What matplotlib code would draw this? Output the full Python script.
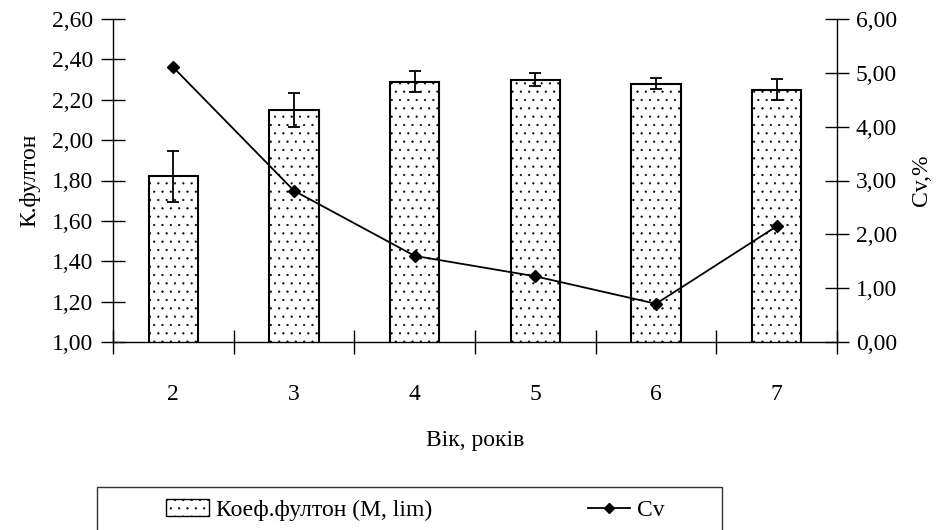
import matplotlib.pyplot as plt
import matplotlib.patches as mpatches
from matplotlib.lines import Line2D
from matplotlib.ticker import FuncFormatter, MultipleLocator
import numpy as np

plt.rcParams['font.family'] = ['Liberation Serif', 'DejaVu Serif']
plt.rcParams['hatch.color'] = '#555555'
plt.rcParams['hatch.linewidth'] = 0.35

# Data
ages = ['2', '3', '4', '5', '6', '7']
fulton = [1.82, 2.15, 2.29, 2.30, 2.28, 2.25]
fulton_err = [0.125, 0.083, 0.05, 0.034, 0.026, 0.053]
cv = [5.10, 2.81, 1.60, 1.22, 0.71, 2.15]

FS = 17

fig = plt.figure(figsize=(9.41, 5.30), dpi=100)
ax = fig.add_axes([113 / 941, 1 - 342 / 530, (837 - 113) / 941, (342 - 19) / 530])
ax2 = ax.twinx()

x = np.arange(len(ages)) + 0.5

ax.bar(x, fulton, width=0.41, bottom=0, color='white', edgecolor='black',
       linewidth=1.5, hatch='..', zorder=2)
ax.errorbar(x, fulton, yerr=fulton_err, fmt='none', ecolor='black',
            elinewidth=1.3, capsize=4.5, capthick=1.3, zorder=3)

ax2.plot(x, cv, color='black', linewidth=1.3, marker='D', markersize=6.5, zorder=4)

ax.set_xlim(0, len(ages))
ax.set_ylim(1.0, 2.6)
ax2.set_ylim(0, 6)

ax.yaxis.set_major_locator(MultipleLocator(0.2))
ax2.yaxis.set_major_locator(MultipleLocator(1.0))
ax.yaxis.set_major_formatter(FuncFormatter(lambda v, p: f'{v:.2f}'.replace('.', ',')))
ax2.yaxis.set_major_formatter(FuncFormatter(lambda v, p: f'{v:.2f}'.replace('.', ',')))

ax.set_xticks(x)
ax.set_xticklabels(ages)
ax.set_xticks(np.arange(len(ages) + 1), minor=True)
ax.tick_params(axis='x', which='major', length=0, pad=30, labelsize=FS)
ax.tick_params(axis='x', which='minor', direction='inout', length=17, width=1)
ax.tick_params(axis='y', direction='inout', length=17, width=1, pad=6, labelsize=FS)
ax2.tick_params(axis='y', direction='inout', length=17, width=1, pad=5, labelsize=FS)

for a in (ax, ax2):
    a.spines['top'].set_visible(False)
    for s in a.spines.values():
        s.set_linewidth(1.0)
ax.spines['right'].set_visible(False)
ax2.spines['left'].set_visible(False)
ax2.spines['bottom'].set_visible(False)

ax.set_xlabel('Вік, років', fontsize=FS, labelpad=18)
ax.set_ylabel('К.фултон', fontsize=FS, labelpad=8)
ax2.set_ylabel('Cv,%', fontsize=FS, labelpad=10)

# Legend box
fig.patches.append(mpatches.Rectangle((97 / 941, -0.01), (722 - 97) / 941, (530 - 487) / 530 + 0.01,
                                      transform=fig.transFigure, facecolor='white',
                                      edgecolor='#333333', linewidth=1.0))
h1 = mpatches.Patch(facecolor='white', edgecolor='black', hatch='..', linewidth=1.0)
h2 = Line2D([], [], color='black', linewidth=1.3, marker='D', markersize=5)
fig.legend([h1, h2], ['Коеф.фултон (M, lim)', 'Cv'], ncol=2, frameon=False,
           loc='center left', bbox_to_anchor=(166 / 941, 1 - 510 / 530),
           fontsize=FS, handlelength=1.8, handletextpad=0.3, columnspacing=6.6,
           borderpad=0, borderaxespad=0)

fig.savefig('out.png', dpi=100)
